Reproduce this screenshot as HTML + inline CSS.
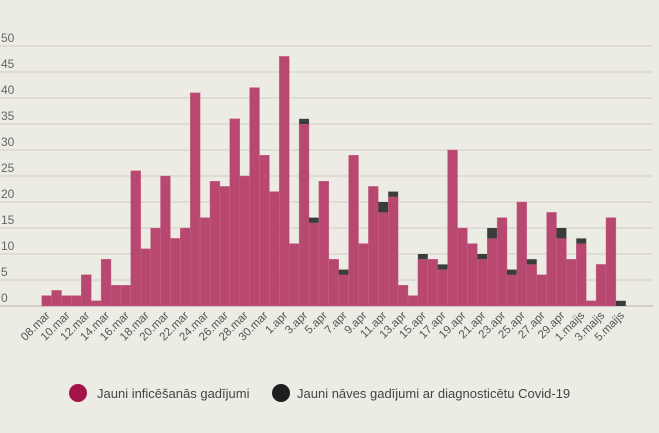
<!DOCTYPE html>
<html><head><meta charset="utf-8"><style>
body{margin:0;background:#ecebe4;}
svg{display:block;font-family:"Liberation Sans",sans-serif;}
</style></head><body>
<svg id="chart" width="659" height="433" viewBox="0 0 659 433">
<rect width="659" height="433" fill="#ecebe4"/>
<g id="grid"></g><g id="bars"></g><g id="xlabels"></g>
<g>
<circle cx="78" cy="393" r="9" fill="#a3134a"/>
<text x="97" y="398" font-size="13" fill="#444">Jauni inficēšanās gadījumi</text>
<circle cx="281" cy="393" r="9" fill="#1e1e1e"/>
<text x="297" y="398" font-size="13" fill="#444">Jauni nāves gadījumi ar diagnosticētu Covid-19</text>
</g>
</svg>
<script>
const dates=["08.mar","09.mar","10.mar","11.mar","12.mar","13.mar","14.mar","15.mar","16.mar","17.mar","18.mar","19.mar","20.mar","21.mar","22.mar","23.mar","24.mar","25.mar","26.mar","27.mar","28.mar","29.mar","30.mar","31.mar","1.apr","2.apr","3.apr","4.apr","5.apr","6.apr","7.apr","8.apr","9.apr","10.apr","11.apr","12.apr","13.apr","14.apr","15.apr","16.apr","17.apr","18.apr","19.apr","20.apr","21.apr","22.apr","23.apr","24.apr","25.apr","26.apr","27.apr","28.apr","29.apr","30.apr","1.maijs","2.maijs","3.maijs","4.maijs","5.maijs"];
const infections=[2,3,2,2,6,1,9,4,4,26,11,15,25,13,15,41,17,24,23,36,25,42,29,22,48,12,35,16,24,9,6,29,12,23,18,21,4,2,9,9,7,30,15,12,9,13,17,6,20,8,6,18,13,9,12,1,8,17,0];
const deaths=[0,0,0,0,0,0,0,0,0,0,0,0,0,0,0,0,0,0,0,0,0,0,0,0,0,0,1,1,0,0,1,0,0,0,2,1,0,0,1,0,1,0,0,0,1,2,0,1,0,1,0,0,2,0,1,0,0,0,1];
const yTicks=[0,5,10,15,20,25,30,35,40,45,50];
const NS="http://www.w3.org/2000/svg";
const x0=41.7,bw=9.9,y0=306,ppu=5.2;
const X=i=>x0+i*bw, Y=v=>y0-v*ppu;
const grid=document.getElementById('grid'),bars=document.getElementById('bars'),xl=document.getElementById('xlabels');
yTicks.forEach(t=>{
 const l=document.createElementNS(NS,'line');
 
 
 l.setAttribute('x1',0);l.setAttribute('x2',653);l.setAttribute('y1',Y(t));l.setAttribute('y2',Y(t));
 l.setAttribute('stroke',t===0?'#c9c7bd':'#cfcdc3');l.setAttribute('stroke-width',t===0?1.5:1);
 grid.appendChild(l);
 const tx=document.createElementNS(NS,'text');
 
 
 tx.setAttribute('x',1);tx.setAttribute('y',Y(t)-4);tx.setAttribute('font-size','12');tx.setAttribute('fill','#666');
 tx.textContent=t;grid.appendChild(tx);
});
infections.forEach((v,i)=>{
 const r=document.createElementNS(NS,'rect');
 
 
 r.setAttribute('x',X(i));r.setAttribute('width',bw);r.setAttribute('y',Y(v));r.setAttribute('height',v*ppu);
 r.setAttribute('fill','#b8486f');r.setAttribute('stroke','#c76a8a');r.setAttribute('stroke-width','0.4');
 bars.appendChild(r);
 const d=deaths[i];
 if(d>0){
  const b=document.createElementNS(NS,'rect');
  
  
  b.setAttribute('x',X(i));b.setAttribute('width',bw);b.setAttribute('y',Y(v+d));b.setAttribute('height',d*ppu);
  b.setAttribute('fill','#3b3d3a');
  bars.appendChild(b);
 }
 if(i%2===0){
  const t=document.createElementNS(NS,'text');
  
  
  const cx=X(i)+bw/2+4,cy=316;
  t.setAttribute('x',cx);t.setAttribute('y',cy);t.setAttribute('text-anchor','end');
  t.setAttribute('font-size','11.5');t.setAttribute('fill','#555');
  t.setAttribute('transform','rotate(-45 '+cx+' '+cy+')');
  t.textContent=dates[i];xl.appendChild(t);
 }
});
</script>
</body></html>
